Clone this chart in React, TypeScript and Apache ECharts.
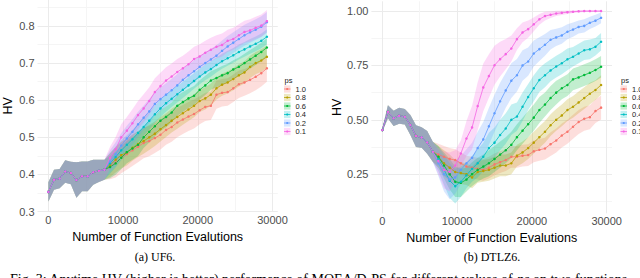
import React, { useEffect, useRef } from "react";
import * as echarts from "echarts";

// ---------- data ----------
const evaluations = [
  0, 750, 1500, 2250, 3000, 3750, 4500, 5250, 6000, 6750, 7500, 8250, 9000, 9750,
  10500, 11250, 12000, 12750, 13500, 14250, 15000, 15750, 16500, 17250, 18000,
  18750, 19500, 20250, 21000, 21750, 22500, 23250, 24000, 24750, 25500, 26250,
  27000, 27750, 28500, 29250,
];
const psLevels = ["1.0", "0.8", "0.6", "0.4", "0.2", "0.1"];
const psColors = ["#F8766D", "#B79F00", "#00BA38", "#00BFC4", "#619CFF", "#F564E3"];

// UF6: shared start (0..7500), then one tail per ps (8250..29250)
const uf6Shared = [0.353, 0.386, 0.389, 0.408, 0.404, 0.385, 0.395, 0.395, 0.406, 0.41, 0.413];
const uf6SharedSd = [0.026, 0.027, 0.026, 0.03, 0.03, 0.048, 0.04, 0.04, 0.034, 0.03, 0.027];
const uf6Ps10 = [0.422, 0.432, 0.445, 0.455, 0.465, 0.475, 0.485, 0.49, 0.498, 0.507, 0.52, 0.528, 0.54, 0.548, 0.556, 0.563, 0.573, 0.582, 0.585, 0.615, 0.62, 0.622, 0.632, 0.643, 0.648, 0.655, 0.663, 0.673, 0.686];
const uf6Ps08 = [0.425, 0.44, 0.452, 0.46, 0.472, 0.482, 0.49, 0.5, 0.51, 0.522, 0.533, 0.545, 0.555, 0.565, 0.575, 0.585, 0.598, 0.605, 0.615, 0.632, 0.642, 0.648, 0.657, 0.667, 0.675, 0.69, 0.7, 0.707, 0.717];
const uf6Ps06 = [0.42, 0.43, 0.445, 0.46, 0.47, 0.48, 0.5, 0.515, 0.53, 0.545, 0.555, 0.567, 0.585, 0.595, 0.605, 0.612, 0.628, 0.64, 0.653, 0.66, 0.667, 0.673, 0.683, 0.69, 0.7, 0.71, 0.72, 0.73, 0.742];
const uf6Ps04 = [0.43, 0.447, 0.465, 0.48, 0.495, 0.512, 0.528, 0.545, 0.562, 0.578, 0.592, 0.604, 0.616, 0.628, 0.64, 0.652, 0.664, 0.675, 0.684, 0.695, 0.705, 0.713, 0.721, 0.73, 0.737, 0.745, 0.752, 0.76, 0.771];
const uf6Ps02 = [0.435, 0.455, 0.478, 0.497, 0.515, 0.535, 0.553, 0.57, 0.59, 0.603, 0.615, 0.627, 0.64, 0.655, 0.667, 0.678, 0.69, 0.7, 0.71, 0.72, 0.733, 0.745, 0.755, 0.765, 0.775, 0.783, 0.79, 0.798, 0.81];
const uf6Ps01 = [0.445, 0.468, 0.5, 0.518, 0.538, 0.56, 0.578, 0.598, 0.622, 0.638, 0.653, 0.664, 0.676, 0.686, 0.697, 0.711, 0.718, 0.728, 0.736, 0.744, 0.749, 0.76, 0.765, 0.775, 0.784, 0.788, 0.795, 0.801, 0.813];
const uf6Sd10 = [0.035, 0.04, 0.042, 0.042, 0.042, 0.042, 0.041, 0.041, 0.04, 0.04, 0.04, 0.04, 0.04, 0.039, 0.039, 0.039, 0.038, 0.038, 0.038, 0.038, 0.037, 0.037, 0.037, 0.037, 0.036, 0.036, 0.036, 0.036, 0.036];
const uf6Sd08 = [0.032, 0.035, 0.036, 0.036, 0.035, 0.035, 0.034, 0.034, 0.033, 0.033, 0.032, 0.032, 0.032, 0.031, 0.031, 0.031, 0.03, 0.03, 0.03, 0.03, 0.03, 0.03, 0.03, 0.03, 0.03, 0.03, 0.03, 0.03, 0.03];
const uf6Sd06 = [0.03, 0.031, 0.031, 0.03, 0.03, 0.03, 0.029, 0.029, 0.028, 0.028, 0.028, 0.027, 0.027, 0.027, 0.026, 0.026, 0.026, 0.026, 0.025, 0.025, 0.025, 0.025, 0.025, 0.025, 0.025, 0.025, 0.025, 0.025, 0.025];
const uf6Sd04 = [0.028, 0.028, 0.027, 0.026, 0.025, 0.025, 0.024, 0.024, 0.023, 0.023, 0.023, 0.022, 0.022, 0.022, 0.022, 0.021, 0.021, 0.021, 0.021, 0.02, 0.02, 0.02, 0.02, 0.02, 0.02, 0.02, 0.02, 0.02, 0.02];
const uf6Sd02 = [0.03, 0.032, 0.033, 0.034, 0.034, 0.034, 0.033, 0.033, 0.032, 0.032, 0.031, 0.031, 0.03, 0.03, 0.03, 0.03, 0.029, 0.029, 0.029, 0.028, 0.028, 0.028, 0.028, 0.028, 0.028, 0.028, 0.028, 0.028, 0.028];
const uf6Sd01 = [0.03, 0.033, 0.035, 0.037, 0.038, 0.038, 0.038, 0.037, 0.037, 0.036, 0.036, 0.035, 0.035, 0.034, 0.034, 0.033, 0.033, 0.032, 0.032, 0.031, 0.031, 0.03, 0.03, 0.03, 0.03, 0.03, 0.03, 0.03, 0.03];

// DTLZ6: shared start (0..6750), then one tail per ps (7500..29250)
const dtlz6Shared = [0.453, 0.537, 0.507, 0.519, 0.514, 0.476, 0.425, 0.419, 0.396, 0.353];
const dtlz6SharedSd = [0.007, 0.03, 0.035, 0.037, 0.036, 0.046, 0.05, 0.047, 0.052, 0.046];
const dtlz6Ps10 = [0.34, 0.33, 0.32, 0.315, 0.3, 0.285, 0.28, 0.275, 0.27, 0.28, 0.295, 0.305, 0.315, 0.33, 0.33, 0.335, 0.338, 0.355, 0.362, 0.368, 0.388, 0.405, 0.428, 0.445, 0.468, 0.49, 0.505, 0.512, 0.54, 0.556];
const dtlz6Ps08 = [0.33, 0.3, 0.28, 0.26, 0.255, 0.25, 0.235, 0.26, 0.265, 0.27, 0.28, 0.29, 0.29, 0.3, 0.335, 0.35, 0.37, 0.395, 0.42, 0.445, 0.475, 0.5, 0.52, 0.545, 0.56, 0.58, 0.6, 0.62, 0.637, 0.66];
const dtlz6Ps06 = [0.33, 0.29, 0.25, 0.215, 0.21, 0.225, 0.25, 0.27, 0.285, 0.3, 0.32, 0.34, 0.36, 0.385, 0.42, 0.45, 0.48, 0.51, 0.545, 0.57, 0.6, 0.625, 0.645, 0.66, 0.686, 0.695, 0.706, 0.716, 0.729, 0.744];
const dtlz6Ps04 = [0.32, 0.27, 0.22, 0.195, 0.215, 0.245, 0.275, 0.3, 0.33, 0.37, 0.395, 0.43, 0.46, 0.5, 0.515, 0.56, 0.605, 0.645, 0.683, 0.705, 0.727, 0.745, 0.76, 0.778, 0.79, 0.805, 0.82, 0.824, 0.836, 0.859];
const dtlz6Ps02 = [0.3, 0.25, 0.225, 0.235, 0.27, 0.3, 0.325, 0.37, 0.41, 0.47, 0.53, 0.585, 0.635, 0.68, 0.705, 0.75, 0.768, 0.805, 0.825, 0.845, 0.868, 0.879, 0.888, 0.905, 0.915, 0.927, 0.932, 0.946, 0.956, 0.969];
const dtlz6Ps01 = [0.31, 0.27, 0.26, 0.29, 0.345, 0.414, 0.465, 0.563, 0.649, 0.701, 0.751, 0.779, 0.802, 0.828, 0.871, 0.902, 0.917, 0.939, 0.962, 0.977, 0.983, 0.989, 0.992, 0.995, 0.997, 0.999, 1.0, 1.0, 1.0, 1.0];
const dtlz6Sd10 = [0.05, 0.05, 0.05, 0.05, 0.05, 0.05, 0.05, 0.05, 0.05, 0.05, 0.05, 0.05, 0.05, 0.05, 0.05, 0.05, 0.05, 0.05, 0.05, 0.05, 0.055, 0.055, 0.055, 0.055, 0.055, 0.055, 0.055, 0.055, 0.055, 0.055];
const dtlz6Sd08 = [0.05, 0.06, 0.06, 0.055, 0.05, 0.05, 0.05, 0.05, 0.05, 0.05, 0.05, 0.05, 0.05, 0.05, 0.05, 0.05, 0.05, 0.05, 0.05, 0.05, 0.05, 0.05, 0.05, 0.05, 0.05, 0.05, 0.05, 0.05, 0.045, 0.045];
const dtlz6Sd06 = [0.05, 0.06, 0.07, 0.07, 0.065, 0.055, 0.055, 0.055, 0.055, 0.06, 0.06, 0.06, 0.06, 0.06, 0.06, 0.06, 0.06, 0.06, 0.06, 0.055, 0.055, 0.055, 0.05, 0.05, 0.05, 0.05, 0.05, 0.05, 0.05, 0.05];
const dtlz6Sd04 = [0.055, 0.07, 0.08, 0.08, 0.07, 0.06, 0.06, 0.065, 0.065, 0.07, 0.07, 0.07, 0.07, 0.07, 0.065, 0.065, 0.06, 0.06, 0.055, 0.055, 0.05, 0.05, 0.05, 0.05, 0.045, 0.045, 0.045, 0.045, 0.04, 0.04];
const dtlz6Sd02 = [0.06, 0.08, 0.09, 0.075, 0.065, 0.065, 0.07, 0.075, 0.08, 0.085, 0.085, 0.085, 0.08, 0.08, 0.075, 0.07, 0.065, 0.06, 0.055, 0.05, 0.045, 0.04, 0.038, 0.035, 0.033, 0.03, 0.03, 0.028, 0.027, 0.025];
const dtlz6Sd01 = [0.06, 0.085, 0.09, 0.07, 0.06, 0.08, 0.1, 0.11, 0.11, 0.1, 0.09, 0.08, 0.07, 0.06, 0.05, 0.045, 0.04, 0.032, 0.025, 0.02, 0.015, 0.012, 0.01, 0.008, 0.006, 0.005, 0.004, 0.004, 0.003, 0.003];

const xTicks = [0, 10000, 20000, 30000];
const xMinorTicks = [5000, 15000, 25000];
const uf6YTicks = [0.3, 0.4, 0.5, 0.6, 0.7, 0.8];
const uf6YMinor = [0.35, 0.45, 0.55, 0.65, 0.75, 0.85];
const dtlz6YTicks = [0.25, 0.5, 0.75, 1.0];
const dtlz6YMinor = [0.125, 0.375, 0.625, 0.875];

// ---------- styling / layout ----------
const SANS = "'Liberation Sans', Arial, Helvetica, sans-serif";
const SERIF = "'Liberation Serif', 'Times New Roman', serif";
const BAND_ALPHA = 0.24;

function rgba(hex: string, a: number) {
  const n = parseInt(hex.slice(1), 16);
  return `rgba(${(n >> 16) & 255},${(n >> 8) & 255},${n & 255},${a})`;
}

const panels = [
  {
    shared: uf6Shared, sharedSd: uf6SharedSd,
    tails: [uf6Ps10, uf6Ps08, uf6Ps06, uf6Ps04, uf6Ps02, uf6Ps01],
    sdTails: [uf6Sd10, uf6Sd08, uf6Sd06, uf6Sd04, uf6Sd02, uf6Sd01],
    yMin: 0.3, yMax: 0.87, yTicks: uf6YTicks, yMinor: uf6YMinor, digits: 1,
    grid: { left: 31.1, top: 0, width: 246.7, height: 211.6 },
    yNameGap: 23.5, xLabelMargin: 3, legendX: 284, caption: "(a) UF6.", captionX: 155,
  },
  {
    shared: dtlz6Shared, sharedSd: dtlz6SharedSd,
    tails: [dtlz6Ps10, dtlz6Ps08, dtlz6Ps06, dtlz6Ps04, dtlz6Ps02, dtlz6Ps01],
    sdTails: [dtlz6Sd10, dtlz6Sd08, dtlz6Sd06, dtlz6Sd04, dtlz6Sd02, dtlz6Sd01],
    yMin: 0.07, yMax: 1.045, yTicks: dtlz6YTicks, yMinor: dtlz6YMinor, digits: 2,
    grid: { left: 371.4, top: 1.3, width: 240.6, height: 212 },
    yNameGap: 25.5, xLabelMargin: 2, legendX: 620.5, caption: "(b) DTLZ6.", captionX: 492,
  },
];

function buildOption() {
  const grids: any[] = [];
  const xAxes: any[] = [];
  const yAxes: any[] = [];
  const bandSeries: any[] = [];
  const lineSeries: any[] = [];
  const graphics: any[] = [];

  panels.forEach((p, pi) => {
    grids.push({ ...p.grid, containLabel: false });
    const xAll = [...xTicks, ...xMinorTicks].sort((a, b) => a - b);
    xAxes.push({
      type: "value", gridIndex: pi, min: -1462.5, max: 30712.5,
      name: "Number of Function Evalutions", nameLocation: "middle", nameGap: 12.5,
      nameTextStyle: { color: "#000", fontSize: 12.5, fontFamily: SANS },
      axisLine: { show: false }, axisTick: { show: false, customValues: xAll },
      axisLabel: { customValues: xTicks, color: "#4d4d4d", fontSize: 11, fontFamily: SANS, margin: p.xLabelMargin, formatter: (v: number) => String(Math.round(v)) },
      splitLine: { show: true, lineStyle: { color: ["#ebebeb", "#f5f5f5"], width: 1 } },
    });
    const yAll = [...p.yTicks, ...p.yMinor].sort((a, b) => a - b);
    const firstIsMajor = Math.abs(yAll[0] - p.yTicks[0]) < 1e-9;
    yAxes.push({
      type: "value", gridIndex: pi, min: p.yMin, max: p.yMax,
      name: "HV", nameLocation: "middle", nameGap: p.yNameGap,
      nameTextStyle: { color: "#000", fontSize: 12.5, fontFamily: SANS },
      axisLine: { show: false }, axisTick: { show: false, customValues: yAll },
      axisLabel: { customValues: p.yTicks, color: "#4d4d4d", fontSize: 11, fontFamily: SANS, margin: 3, formatter: (v: number) => v.toFixed(p.digits) },
      splitLine: { show: true, lineStyle: { color: firstIsMajor ? ["#ebebeb", "#f5f5f5"] : ["#f5f5f5", "#ebebeb"], width: 1 } },
    });

    psLevels.forEach((lvl, k) => {
      const mean = [...p.shared, ...p.tails[k]];
      const sd = [...p.sharedSd, ...p.sdTails[k]];
      const upper = evaluations.map((x, i) => [x, mean[i] + sd[i]]);
      const lower = evaluations.map((x, i) => [x, mean[i] - sd[i]]);
      const fill = rgba(psColors[k], BAND_ALPHA);
      bandSeries.push({
        type: "custom", xAxisIndex: pi, yAxisIndex: pi, silent: true, z: 1,
        data: upper,
        encode: { x: 0, y: 1 },
        renderItem: (params: any, api: any) => {
          if (params.dataIndex !== 0) return null;
          const pts = [
            ...upper.map((d) => api.coord(d)),
            ...lower.slice().reverse().map((d) => api.coord(d)),
          ];
          return { type: "polygon", shape: { points: pts }, style: { fill, stroke: "none" } };
        },
      });
      lineSeries.push({
        type: "line", name: lvl, xAxisIndex: pi, yAxisIndex: pi, z: 2,
        symbol: "circle", symbolSize: 2.5, showSymbol: true,
        itemStyle: { color: psColors[k] }, lineStyle: { color: psColors[k], width: 0.8 },
        data: evaluations.map((x, i) => [x, mean[i]]),
      });

      // legend key
      const rowY = 89 + 8.5 * k;
      graphics.push({ type: "rect", shape: { x: p.legendX, y: rowY - 3.6, width: 6.5, height: 7.2 }, style: { fill }, z: 10 });
      graphics.push({ type: "line", shape: { x1: p.legendX, y1: rowY, x2: p.legendX + 6.5, y2: rowY }, style: { stroke: psColors[k], lineWidth: 0.8 }, z: 11 });
      graphics.push({ type: "circle", shape: { cx: p.legendX + 3.25, cy: rowY, r: 1.1 }, style: { fill: psColors[k] }, z: 11 });
      graphics.push({ type: "text", x: p.legendX + 11.5, y: rowY, style: { text: lvl, fill: "#1a1a1a", fontSize: 7.5, fontFamily: SANS, align: "left", verticalAlign: "middle" }, z: 11 });
    });
    graphics.push({ type: "text", x: p.legendX + 0.5, y: 80.5, style: { text: "ps", fill: "#1a1a1a", fontSize: 7.5, fontFamily: SANS, align: "left", verticalAlign: "middle" }, z: 11 });
    graphics.push({ type: "text", x: p.captionX, y: 256.5, style: { text: p.caption, fill: "#000", fontSize: 12, fontFamily: SERIF, align: "center", verticalAlign: "middle" }, z: 11 });
  });

  graphics.push({
    type: "text", x: 10, y: 272.5,
    style: {
      text: "Fig. 3: Anytime HV (higher is better) performance of MOEA/D-PS for different values of {it|ps} on two functions",
      fill: "#000", fontSize: 14, fontFamily: SERIF, align: "left", verticalAlign: "top",
      rich: { it: { fontStyle: "italic", fontSize: 14, fontFamily: SERIF, fill: "#000" } },
    },
    z: 11,
  });

  return {
    animation: false,
    backgroundColor: "#ffffff",
    grid: grids,
    xAxis: xAxes,
    yAxis: yAxes,
    series: [...bandSeries, ...lineSeries],
    graphic: { elements: graphics },
  };
}

export default function App() {
  const ref = useRef<HTMLDivElement>(null);
  useEffect(() => {
    if (!ref.current) return;
    const chart = echarts.init(ref.current, null, { renderer: "svg" });
    chart.setOption(buildOption() as any);
    return () => chart.dispose();
  }, []);
  return <div ref={ref} style={{ position: "absolute", left: 0, top: 0, width: 640, height: 278 }} />;
}
